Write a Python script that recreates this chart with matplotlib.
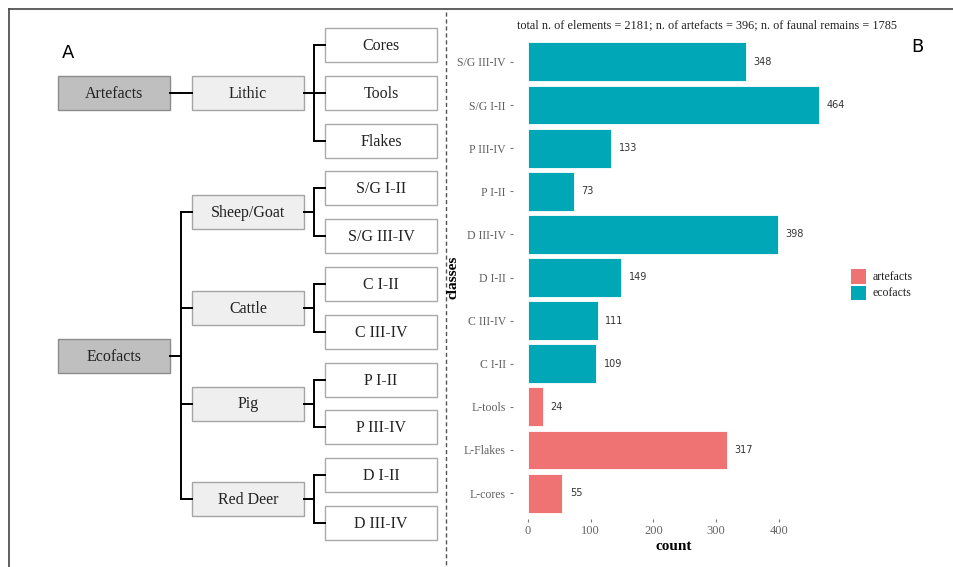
import matplotlib
matplotlib.use("Agg")
import matplotlib.pyplot as plt
from matplotlib.patches import Rectangle

# ---- data ----
classes = ["L-cores", "L-Flakes", "L-tools", "C I-II", "C III-IV", "D I-II",
           "D III-IV", "P I-II", "P III-IV", "S/G I-II", "S/G III-IV"]
counts = [55, 317, 24, 109, 111, 149, 398, 73, 133, 464, 348]
kind = ["artefacts", "artefacts", "artefacts", "ecofacts", "ecofacts", "ecofacts",
        "ecofacts", "ecofacts", "ecofacts", "ecofacts", "ecofacts"]
colors = {"artefacts": "#EF7372", "ecofacts": "#00A7B6"}

top_level = ["Artefacts", "Ecofacts"]
groups = {"Artefacts": ["Lithic"],
          "Ecofacts": ["Sheep/Goat", "Cattle", "Pig", "Red Deer"]}
leaves = {"Lithic": ["Cores", "Tools", "Flakes"],
          "Sheep/Goat": ["S/G I-II", "S/G III-IV"],
          "Cattle": ["C I-II", "C III-IV"],
          "Pig": ["P I-II", "P III-IV"],
          "Red Deer": ["D I-II", "D III-IV"]}

title = "total n. of elements = 2181; n. of artefacts = 396; n. of faunal remains = 1785"

serif = "Liberation Serif"
W, H = 954, 567
fig = plt.figure(figsize=(W / 100, H / 100), dpi=100)

# ---- panel A: tree diagram, drawn in pixel coords ----
ax0 = fig.add_axes([0, 0, 1, 1], zorder=0)
ax0.set_xlim(0, W)
ax0.set_ylim(H, 0)
ax0.axis("off")

# frame + divider
ax0.plot([9, W], [9, 9], color="#444444", lw=1.2)
ax0.plot([9, 9], [9, H], color="#444444", lw=1.2)
ax0.plot([446, 446], [12, H], color="#555555", lw=1, ls=(0, (3, 2)))

ax0.text(68, 53, "A", fontsize=13, ha="center", va="center", family="DejaVu Sans")

bw, bh = 112, 34
col_x = [58, 192, 325]
fills = ["#bfbfbf", "#efefef", "#ffffff"]
edges = ["#8c8c8c", "#a5a5a5", "#aaaaaa"]


def box(x, yc, label, lvl):
    ax0.add_patch(Rectangle((x, yc - bh / 2), bw, bh, facecolor=fills[lvl],
                            edgecolor=edges[lvl], lw=1))
    ax0.text(x + bw / 2, yc + 1, label, ha="center", va="center",
             fontsize=11.5, family=serif, color="#222222")


def connect(x0, y0, x1, ys):
    xm = (x0 + x1) / 2
    ax0.plot([x0, xm], [y0, y0], color="black", lw=1.4)
    ax0.plot([xm, xm], [min(ys), max(ys)], color="black", lw=1.4)
    for y in ys:
        ax0.plot([xm, x1], [y, y], color="black", lw=1.4)


row = 0
step = 47.8
start = 45
for top in top_level:
    gcenters = []
    for g in groups[top]:
        lc = []
        for leaf in leaves[g]:
            yc = start + row * step
            box(col_x[2], yc, leaf, 2)
            lc.append(yc)
            row += 1
        gc = sum(lc) / len(lc)
        box(col_x[1], gc, g, 1)
        connect(col_x[1] + bw, gc, col_x[2], lc)
        gcenters.append(gc)
    tc = (min(gcenters) + max(gcenters)) / 2
    box(col_x[0], tc, top, 0)
    connect(col_x[0] + bw, tc, col_x[1], gcenters)

# ---- panel B: bar chart ----
ax = fig.add_axes([513.4 / W, 48 / H, 320.3 / W, 483 / H], zorder=1)
ax.patch.set_alpha(0)
ypos = list(range(len(classes)))
ax.barh(ypos, counts, height=0.9, color=[colors[k] for k in kind],
        edgecolor="white", lw=0.6)
mx = max(counts)
for y, v in zip(ypos, counts):
    ax.text(v + mx * 0.025, y, str(v), va="center", ha="left", fontsize=7,
            family="DejaVu Sans", color="#333333")
ax.set_xlim(-0.05 * mx, 1.05 * mx)
ax.set_ylim(-0.6, len(classes) - 0.4)
ax.set_yticks(ypos)
ax.set_yticklabels(classes, family=serif, fontsize=8.5, color="#606060")
ax.set_xticks([0, 100, 200, 300, 400])
ax.set_xticklabels(["0", "100", "200", "300", "400"], family=serif,
                   fontsize=9, color="#666666")
ax.tick_params(length=2.5, width=0.8, color="#777777", pad=3)
ax.tick_params(axis="x", pad=1.5)
for s in ax.spines.values():
    s.set_visible(False)
ax.set_xlabel("count", family=serif, fontsize=11, fontweight="bold")
ax.set_ylabel("classes", family=serif, fontsize=11, fontweight="bold")
ax.xaxis.set_label_coords(0.5, -0.043)
ax.yaxis.set_label_coords(-0.167, 0.5)

fig.text(707 / W, 1 - 25 / H, title, ha="center", va="center",
         family=serif, fontsize=8.8, color="#222222")
fig.text(917 / W, 1 - 47 / H, "B", ha="center", va="center",
         fontsize=13, family="DejaVu Sans")

# legend
for i, k in enumerate(["artefacts", "ecofacts"]):
    y0 = 269 + i * 16.5
    ax0.add_patch(Rectangle((851, y0), 15, 14.5, facecolor=colors[k],
                            edgecolor="none"))
    ax0.text(873, y0 + 7.5, k, va="center", ha="left", family=serif,
             fontsize=8.5, color="#222222")

fig.savefig("out.png", dpi=100)
